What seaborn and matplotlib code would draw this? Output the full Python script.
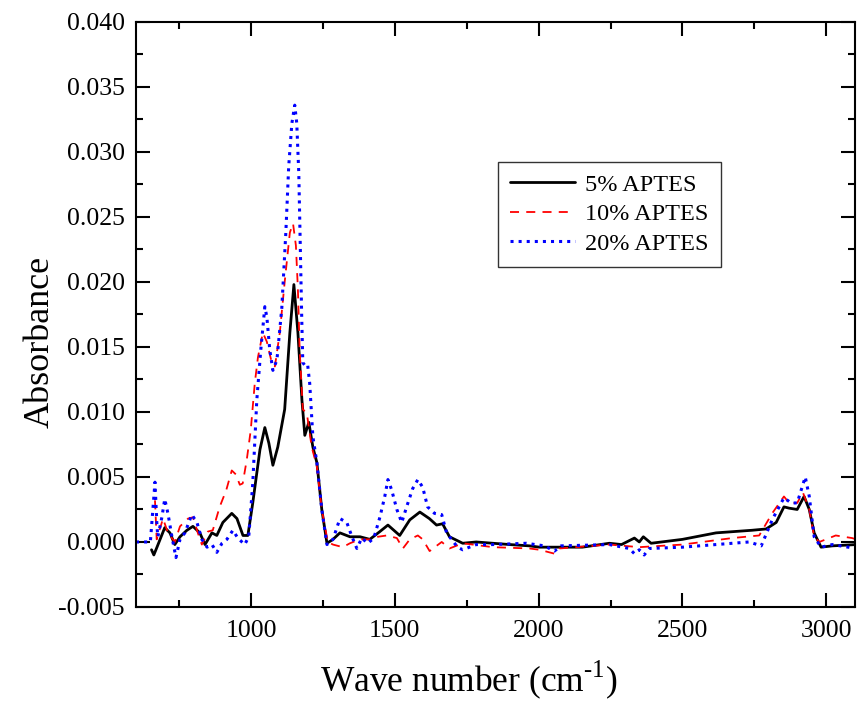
import numpy as np
import pandas as pd
import seaborn as sns
from matplotlib import pyplot as plt
from matplotlib.ticker import MultipleLocator

# FTIR spectra (wave number in cm-1, absorbance)
wn_5 = [654, 662, 673, 700, 718, 735, 753, 777, 798, 822, 840, 864, 881, 902, 933, 951,
        972, 989, 1006, 1031, 1048, 1062, 1076, 1093, 1117, 1135, 1149, 1163, 1177, 1187,
        1201, 1215, 1229, 1246, 1264, 1285, 1309, 1344, 1379, 1413, 1448, 1476, 1517, 1552,
        1587, 1620, 1645, 1666, 1690, 1736, 1783, 1841, 1900, 1968, 2003, 2152, 2246, 2288,
        2333, 2350, 2364, 2391, 2500, 2617, 2742, 2791, 2826, 2853, 2871, 2899, 2923, 2941,
        2958, 2982, 3021, 3104]
abs_5 = [-0.0006, -0.0010, -0.0004, 0.0011, 0.0007, -0.0002, 0.0004, 0.0009, 0.0012, 0.0007,
         -0.0002, 0.0007, 0.0005, 0.0015, 0.0022, 0.0018, 0.0005, 0.0005, 0.0030, 0.0071,
         0.0088, 0.0076, 0.0059, 0.0073, 0.0102, 0.0161, 0.0198, 0.0161, 0.0109, 0.0082,
         0.0092, 0.0073, 0.0061, 0.0025, -0.0001, 0.0002, 0.0007, 0.0004, 0.0004, 0.0002,
         0.0008, 0.0013, 0.0005, 0.0017, 0.0023, 0.0018, 0.0013, 0.0014, 0.0004, -0.0001,
         0.0000, -0.0001, -0.0002, -0.0003, -0.0004, -0.0004, -0.0001, -0.0002, 0.0003,
         0.0000, 0.0004, -0.0001, 0.0002, 0.0007, 0.0009, 0.0010, 0.0015, 0.0027, 0.0026,
         0.0025, 0.0035, 0.0025, 0.0007, -0.0004, -0.0003, -0.0002]

wn_10 = [666, 672, 694, 711, 735, 753, 781, 798, 815, 829, 850, 867, 891, 914, 933, 947,
         961, 971, 985, 999, 1013, 1024, 1041, 1055, 1072, 1083, 1100, 1117, 1135, 1146,
         1156, 1163, 1169, 1180, 1194, 1211, 1229, 1246, 1267, 1285, 1319, 1344, 1378, 1413,
         1441, 1472, 1507, 1528, 1552, 1580, 1597, 1621, 1663, 1690, 1736, 1841, 1968, 2003,
         2055, 2072, 2246, 2350, 2500, 2673, 2767, 2812, 2853, 2871, 2899, 2919, 2941, 2958,
         2976, 3033, 3090, 3104]
abs_10 = [0.0032, 0.0002, 0.0018, 0.0007, 0.0000, 0.0012, 0.0018, 0.0019, 0.0007, -0.0002,
          0.0008, 0.0009, 0.0027, 0.0040, 0.0055, 0.0052, 0.0044, 0.0045, 0.0063, 0.0086,
          0.0122, 0.0142, 0.0161, 0.0154, 0.0138, 0.0135, 0.0161, 0.0200, 0.0238, 0.0245,
          0.0228, 0.0194, 0.0148, 0.0102, 0.0099, 0.0073, 0.0058, 0.0025, 0.0000, -0.0002,
          -0.0004, -0.0001, 0.0002, 0.0002, 0.0004, 0.0005, 0.0003, -0.0005, 0.0002, 0.0005,
          0.0002, -0.0007, 0.0000, -0.0005, -0.0001, -0.0004, -0.0005, -0.0006, -0.0009,
          -0.0005, -0.0002, -0.0004, -0.0002, 0.0003, 0.0005, 0.0022, 0.0035, 0.0030, 0.0030,
          0.0038, 0.0025, 0.0004, 0.0000, 0.0005, 0.0003, 0.0002]

wn_20 = [600, 650, 666, 673, 676, 690, 700, 711, 725, 739, 753, 770, 794, 812, 829, 847, 864,
         881, 899, 916, 937, 954, 978, 992, 1006, 1020, 1034, 1048, 1055, 1065, 1076, 1090,
         1107, 1121, 1131, 1142, 1152, 1159, 1166, 1171, 1176, 1180, 1190, 1197, 1204, 1215,
         1229, 1246, 1264, 1285, 1309, 1333, 1351, 1368, 1385, 1406, 1427, 1448, 1465, 1476,
         1489, 1507, 1524, 1541, 1562, 1580, 1597, 1614, 1638, 1663, 1680, 1697, 1718, 1736,
         1783, 1841, 1957, 2020, 2055, 2078, 2246, 2315, 2333, 2350, 2367, 2385, 2500, 2732,
         2774, 2812, 2853, 2878, 2899, 2927, 2941, 2958, 2982, 3021, 3104]
abs_20 = [0.0000, 0.0000, 0.0046, 0.0012, 0.0004, 0.0019, 0.0033, 0.0022, 0.0004, -0.0012,
          0.0002, 0.0007, 0.0021, 0.0015, 0.0002, -0.0004, -0.0002, -0.0008, -0.0001, 0.0002,
          0.0009, 0.0003, -0.0002, 0.0004, 0.0045, 0.0109, 0.0148, 0.0181, 0.0173, 0.0148,
          0.0132, 0.0140, 0.0180, 0.0238, 0.0289, 0.0322, 0.0336, 0.0322, 0.0284, 0.0230,
          0.0175, 0.0138, 0.0135, 0.0136, 0.0122, 0.0081, 0.0061, 0.0025, -0.0002, 0.0002,
          0.0018, 0.0015, 0.0004, -0.0005, 0.0003, -0.0001, 0.0003, 0.0019, 0.0035, 0.0048,
          0.0040, 0.0025, 0.0015, 0.0027, 0.0041, 0.0048, 0.0042, 0.0027, 0.0022, 0.0021,
          0.0007, 0.0002, -0.0004, -0.0006, -0.0002, -0.0002, -0.0001, -0.0003, -0.0007,
          -0.0003, -0.0002, -0.0005, -0.0009, -0.0006, -0.0010, -0.0005, -0.0004, 0.0000,
          -0.0003, 0.0017, 0.0034, 0.0030, 0.0030, 0.0050, 0.0035, 0.0004, -0.0004, -0.0002,
          -0.0005]

series = [
    ('5% APTES', wn_5, abs_5, 'black', '-', 2.0),
    ('10% APTES', wn_10, abs_10, 'red', (0, (5, 4)), 1.3),
    ('20% APTES', wn_20, abs_20, 'blue', ':', 2.2),
]

sns.set_style("ticks")
plt.rcParams['font.family'] = ['Liberation Serif', 'DejaVu Serif']
plt.rcParams['mathtext.fontset'] = 'custom'
plt.rcParams['mathtext.rm'] = 'Liberation Serif'
plt.rcParams['text.color'] = 'black'
plt.rcParams['axes.labelcolor'] = 'black'

fig = plt.figure(figsize=(8.58, 7.08), dpi=100)
ax = fig.add_axes([0.1585, 0.1427, 0.838, 0.8263])

for name, x, y, c, ls, lw in series:
    df = pd.DataFrame({'wn': x, 'A': y})
    sns.lineplot(data=df, x='wn', y='A', ax=ax, color=c, linestyle=ls, lw=lw,
                 label=name, sort=False, estimator=None)

ax.set_xlim(600, 3100)
ax.set_ylim(-0.005, 0.040)
ax.xaxis.set_major_locator(MultipleLocator(500))
ax.xaxis.set_minor_locator(MultipleLocator(250))
ax.yaxis.set_major_locator(MultipleLocator(0.005))
ax.yaxis.set_minor_locator(MultipleLocator(0.0025))
ax.yaxis.set_major_formatter(plt.FormatStrFormatter('%.3f'))
ax.tick_params(which='both', direction='in', top=True, right=True, width=1.5,
               labelsize=18.5, colors='black')
ax.tick_params(axis='x', pad=9.5)
ax.tick_params(axis='y', pad=8)
ax.tick_params(which='major', length=10)
ax.tick_params(which='minor', length=5)
for s in ax.spines.values():
    s.set_linewidth(1.5)
    s.set_color('black')

ax.set_xlabel('Wave number (cm$^{\\text{-1}}$)', fontsize=25.5)
ax.set_ylabel('Absorbance', fontsize=26)
ax.xaxis.set_label_coords(0.463, -0.088)
ax.yaxis.set_label_coords(-0.1335, 0.453)
ax.yaxis.label.set_verticalalignment('center')

leg = ax.legend(loc='upper left', bbox_to_anchor=(0.503, 0.761), fontsize=17.5,
                frameon=True, fancybox=False, handlelength=2.7, borderpad=0.5,
                labelspacing=0.3, handletextpad=0.4, borderaxespad=0)
leg.get_frame().set_edgecolor('black')
leg.get_frame().set_linewidth(1.0)

fig.savefig('out.png', dpi=100)
